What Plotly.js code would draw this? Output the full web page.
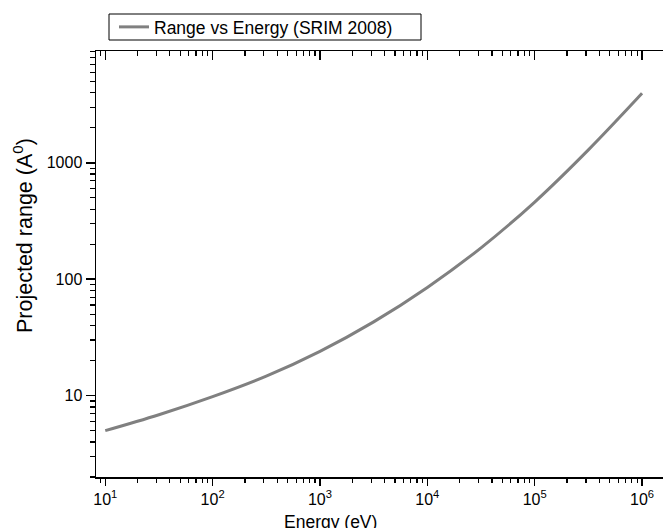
<!DOCTYPE html>
<html>
<head>
<meta charset="utf-8">
<script src="https://cdn.plot.ly/plotly-3.0.1.min.js"></script>
<style>html,body{margin:0;padding:0;background:#fff;}#chart{width:663px;height:528px;}</style>
</head>
<body>
<div id="chart"></div>
<script>
// Energy (eV) and projected range (Angstrom)
const energy = [10, 31.6, 100, 316, 1000, 3162, 10000, 31623, 100000, 316228, 1000000];
const range  = [5.0, 6.85, 9.8, 14.7, 24, 43, 85, 186, 460, 1290, 3950];
const seriesName = 'Range vs Energy (SRIM 2008)';
const xTickVals = [10, 100, 1000, 10000, 100000, 1000000];
const xTickText = ['10<sup>1</sup>', '10<sup>2</sup>', '10<sup>3</sup>', '10<sup>4</sup>', '10<sup>5</sup>', '10<sup>6</sup>'];
const yTickVals = [10, 100, 1000];
const yTickText = ['10', '100', '1000'];

// minor tick positions (2..9 within each decade)
function minorTicks(lo, hi) {
  const out = [];
  for (let d = lo; d <= hi; d++) for (let m = 2; m <= 9; m++) out.push(m * Math.pow(10, d));
  return out;
}

const font = {family: 'Liberation Sans, Arial, sans-serif', color: '#000'};
const xRange = [Math.log10(8.2), 6.195];
const yRange = [0.301, 3.96];
const px = v => (v - 96) / 567;   // helper: page x -> paper x
const py = v => (477 - v) / 426;  // helper: page y -> paper y

const data = [
  {x: energy, y: range, type: 'scatter', mode: 'lines', name: seriesName,
   line: {color: '#808080', width: 3, shape: 'spline', smoothing: 1}, hoverinfo: 'x+y'},
  {x: energy, y: range, xaxis: 'x2', type: 'scatter', mode: 'lines', showlegend: false,
   line: {width: 0}, opacity: 0, hoverinfo: 'skip'}
];

const layout = {
  width: 663, height: 528,
  margin: {l: 96, r: 0, t: 51, b: 51},
  paper_bgcolor: '#fff', plot_bgcolor: '#fff',
  font: Object.assign({size: 16}, font),
  showlegend: true,
  legend: {
    orientation: 'h', x: px(114), y: py(27), xanchor: 'left', yanchor: 'middle',
    borderwidth: 0, bgcolor: 'rgba(0,0,0,0)',
    entrywidth: 280, font: Object.assign({size: 17.5}, font)
  },
  shapes: [
    {type: 'rect', xref: 'paper', yref: 'paper', x0: px(109), x1: px(421), y0: py(40), y1: py(14),
     line: {color: '#000', width: 1}, fillcolor: 'rgba(0,0,0,0)', layer: 'below'}
  ],
  xaxis: {
    type: 'log', range: xRange, showgrid: false, zeroline: false,
    showline: true, linecolor: '#000', linewidth: 1.5,
    ticks: 'outside', ticklen: 7, tickwidth: 1.5, tickcolor: '#000',
    tickvals: xTickVals, ticktext: xTickText, tickfont: Object.assign({size: 16}, font),
    minor: {tickmode: 'array', tickvals: minorTicks(0, 6), ticks: 'outside', ticklen: 4,
            tickwidth: 1.2, tickcolor: '#000', showgrid: false}
  },
  xaxis2: {
    type: 'log', range: xRange, overlaying: 'x', side: 'top', showgrid: false, zeroline: false,
    showline: true, linecolor: '#000', linewidth: 1.5,
    ticks: 'inside', ticklen: 9, tickwidth: 1.5, tickcolor: '#000',
    tickvals: xTickVals, showticklabels: false,
    minor: {tickmode: 'array', tickvals: minorTicks(0, 6), ticks: 'inside', ticklen: 5,
            tickwidth: 1.2, tickcolor: '#000', showgrid: false}
  },
  yaxis: {
    type: 'log', range: yRange, showgrid: false, zeroline: false,
    showline: true, linecolor: '#000', linewidth: 1.5,
    ticks: 'outside', ticklen: 9, tickwidth: 1.5, tickcolor: '#000',
    tickvals: yTickVals, ticktext: yTickText, tickfont: Object.assign({size: 16}, font),
    minor: {tickmode: 'array', tickvals: minorTicks(0, 3), ticks: 'outside', ticklen: 5,
            tickwidth: 1.2, tickcolor: '#000', showgrid: false}
  },
  annotations: [
    {text: 'Energy (eV)', xref: 'paper', yref: 'paper', x: px(330), y: 0,
     yshift: -33, xanchor: 'center', yanchor: 'top', showarrow: false,
     font: Object.assign({size: 17.5}, font)},
    {text: 'Projected range (A<sup>0</sup>)', xref: 'paper', yref: 'paper',
     x: 0, xshift: -73, y: py(236), xanchor: 'center', yanchor: 'middle',
     textangle: -90, showarrow: false, font: Object.assign({size: 21.5}, font)}
  ]
};

Plotly.newPlot('chart', data, layout, {staticPlot: true});
</script>
</body>
</html>
